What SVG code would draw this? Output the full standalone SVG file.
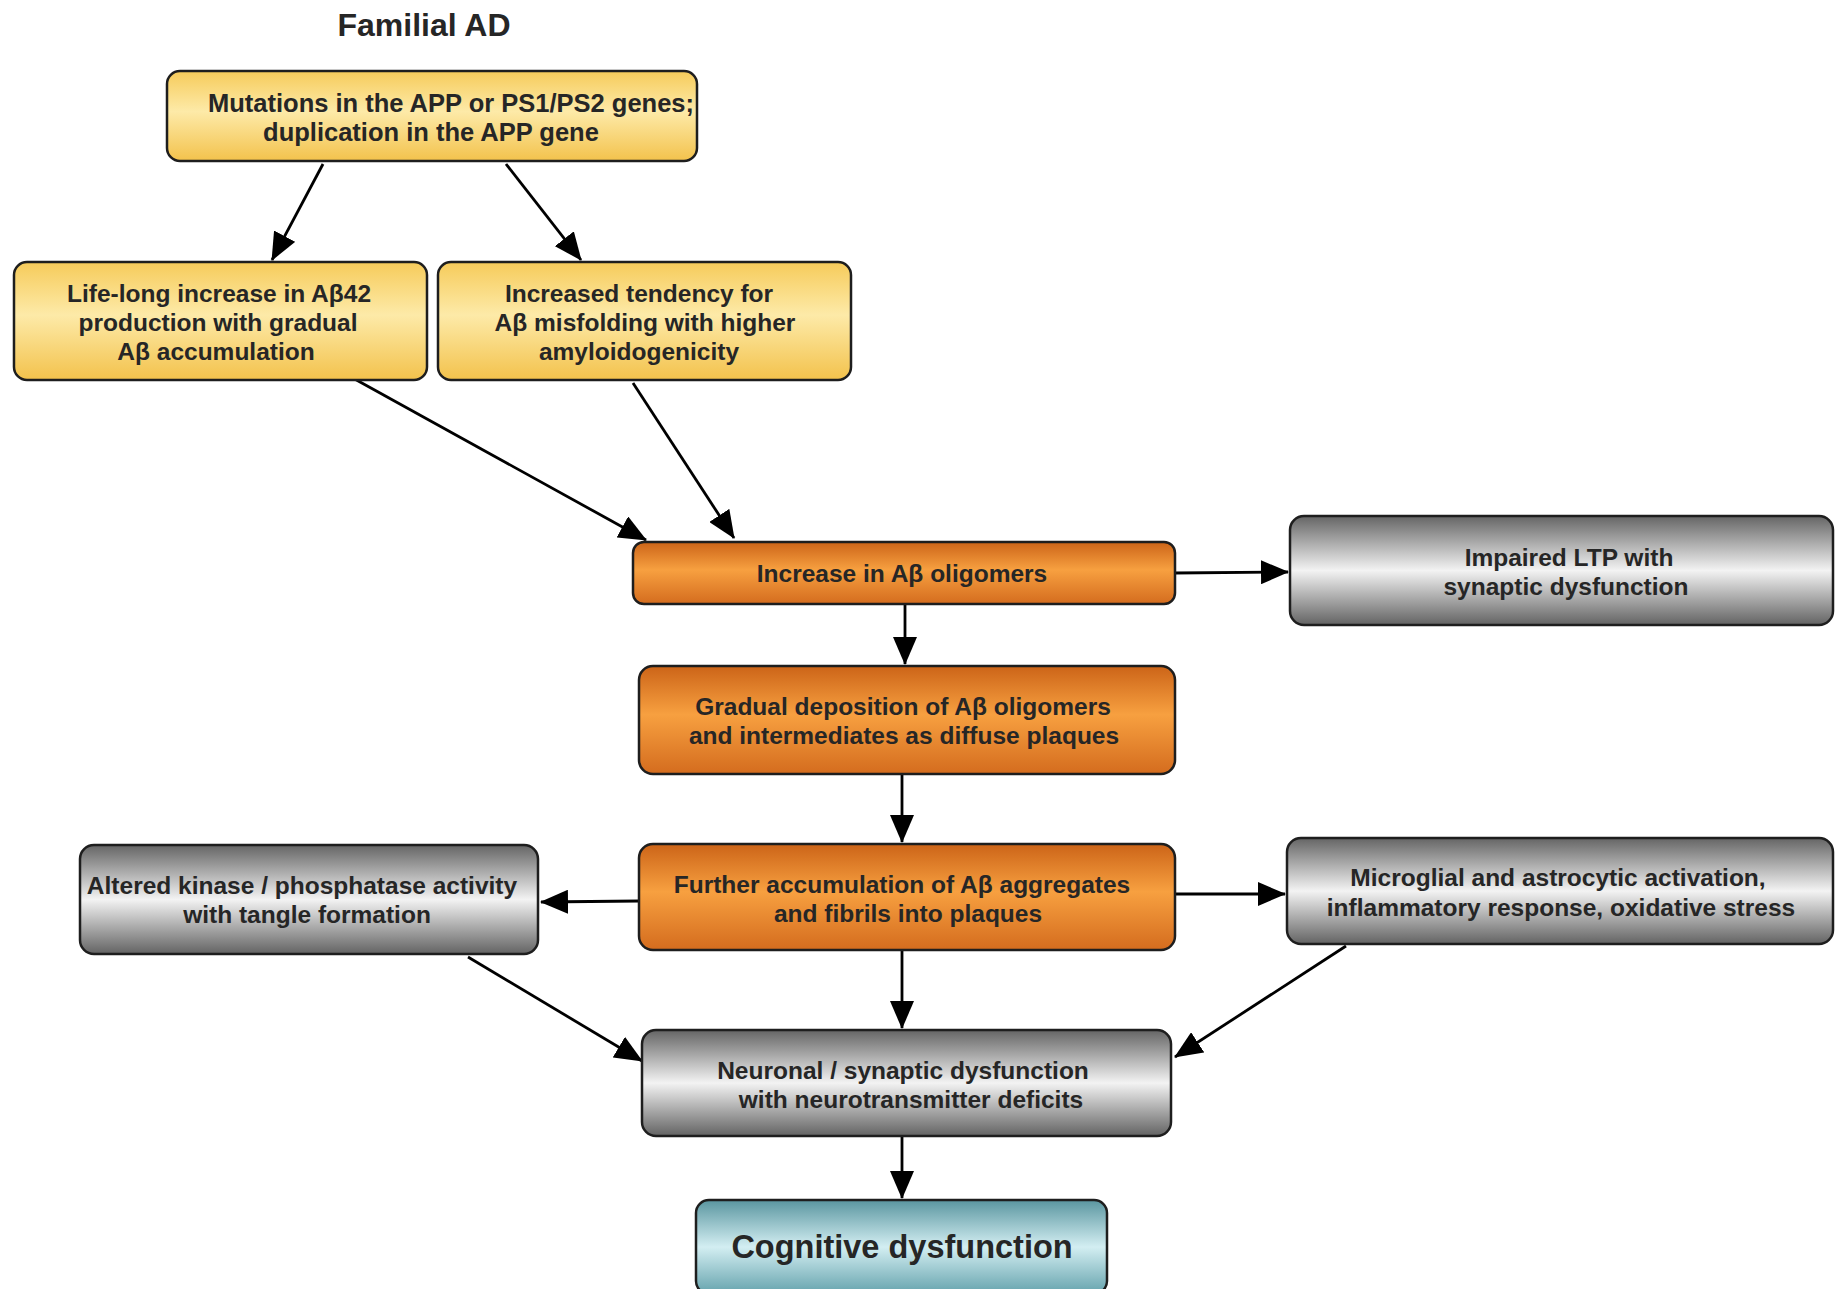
<svg xmlns="http://www.w3.org/2000/svg" width="1835" height="1289" viewBox="0 0 1835 1289">
<style>
.box{stroke:#1e1e1e;stroke-width:2.5}
.t{font-family:"Liberation Sans",Arial,sans-serif;font-weight:bold;font-size:24.5px;fill:#262626;text-anchor:middle}
.tp{font-size:25.5px}
.big{font-size:32.5px}
.title{font-size:32px}
.c{stroke:#000;stroke-width:2.8;fill:none;marker-end:url(#ah)}
</style>
<defs>
<marker id="ah" viewBox="0 0 28 24" refX="27" refY="12" markerWidth="28" markerHeight="24" markerUnits="userSpaceOnUse" orient="auto">
<path d="M0,0 L28,12 L0,24 Z" fill="#000"/>
</marker>
<linearGradient id="gy" x1="0" y1="0" x2="0" y2="1">
<stop offset="0" stop-color="#f6cb5a"/><stop offset="0.45" stop-color="#fdeaa8"/><stop offset="1" stop-color="#f3c24c"/>
</linearGradient>
<linearGradient id="go" x1="0" y1="0" x2="0" y2="1">
<stop offset="0" stop-color="#cc6418"/><stop offset="0.45" stop-color="#f7a040"/><stop offset="1" stop-color="#d46c1e"/>
</linearGradient>
<linearGradient id="gg" x1="0" y1="0" x2="0" y2="1">
<stop offset="0" stop-color="#656565"/><stop offset="0.5" stop-color="#f3f3f3"/><stop offset="1" stop-color="#636363"/>
</linearGradient>
<linearGradient id="gt" x1="0" y1="0" x2="0" y2="1">
<stop offset="0" stop-color="#5a96a0"/><stop offset="0.5" stop-color="#d3eef2"/><stop offset="1" stop-color="#64a2ac"/>
</linearGradient>
</defs>
<rect width="1835" height="1289" fill="#fff"/>
<text class="t title" x="424" y="36">Familial AD</text>
<g id="connectors">
<line class="c" x1="323" y1="164" x2="272" y2="260"/>
<line class="c" x1="506" y1="164" x2="581" y2="260"/>
<line class="c" x1="342" y1="372" x2="646" y2="540"/>
<line class="c" x1="633" y1="383" x2="734" y2="538"/>
<line class="c" x1="1175" y1="573" x2="1288" y2="572"/>
<line class="c" x1="905" y1="604" x2="905" y2="664"/>
<line class="c" x1="902" y1="774" x2="902" y2="842"/>
<line class="c" x1="639" y1="901" x2="541" y2="902"/>
<line class="c" x1="1159" y1="894" x2="1285" y2="894"/>
<line class="c" x1="902" y1="950" x2="902" y2="1028"/>
<line class="c" x1="468" y1="957" x2="642" y2="1061"/>
<line class="c" x1="1346" y1="946" x2="1175" y2="1057"/>
<line class="c" x1="902" y1="1136" x2="902" y2="1198"/>
</g>
<g id="n1"><rect class="box" x="167" y="71" width="530" height="90" rx="13" fill="url(#gy)"/>
<text class="t tp" x="451" y="112">Mutations in the APP or PS1/PS2 genes;</text>
<text class="t tp" x="431" y="141">duplication in the APP gene</text></g>
<g id="n2"><rect class="box" x="14" y="262" width="413" height="118" rx="13" fill="url(#gy)"/>
<text class="t" x="219" y="302">Life-long increase in Aβ42</text>
<text class="t" x="218" y="331">production with gradual</text>
<text class="t" x="216" y="360">Aβ accumulation</text></g>
<g id="n3"><rect class="box" x="438" y="262" width="413" height="118" rx="13" fill="url(#gy)"/>
<text class="t" x="639" y="302">Increased tendency for</text>
<text class="t" x="645" y="331">Aβ misfolding with higher</text>
<text class="t" x="639" y="360">amyloidogenicity</text></g>
<g id="n4"><rect class="box" x="633" y="542" width="542" height="62" rx="11" fill="url(#go)"/>
<text class="t" x="902" y="582">Increase in Aβ oligomers</text></g>
<g id="n5"><rect class="box" x="1290" y="516" width="543" height="109" rx="14" fill="url(#gg)"/>
<text class="t" x="1569" y="566">Impaired LTP with</text>
<text class="t" x="1566" y="595">synaptic dysfunction</text></g>
<g id="n6"><rect class="box" x="639" y="666" width="536" height="108" rx="14" fill="url(#go)"/>
<text class="t" x="903" y="715">Gradual deposition of Aβ oligomers</text>
<text class="t" x="904" y="744">and intermediates as diffuse plaques</text></g>
<g id="n7"><rect class="box" x="639" y="844" width="536" height="106" rx="14" fill="url(#go)"/>
<text class="t" x="902" y="893">Further accumulation of Aβ aggregates</text>
<text class="t" x="908" y="922">and fibrils into plaques</text></g>
<g id="n8"><rect class="box" x="80" y="845" width="458" height="109" rx="14" fill="url(#gg)"/>
<text class="t" x="302" y="894">Altered kinase / phosphatase activity</text>
<text class="t" x="307" y="923">with tangle formation</text></g>
<g id="n9"><rect class="box" x="1287" y="838" width="546" height="106" rx="14" fill="url(#gg)"/>
<text class="t" x="1558" y="886">Microglial and astrocytic activation,</text>
<text class="t" x="1561" y="916">inflammatory response, oxidative stress</text></g>
<g id="n10"><rect class="box" x="642" y="1030" width="529" height="106" rx="14" fill="url(#gg)"/>
<text class="t" x="903" y="1079">Neuronal / synaptic dysfunction</text>
<text class="t" x="911" y="1108">with neurotransmitter deficits</text></g>
<g id="n11"><rect class="box" x="696" y="1200" width="411" height="94" rx="13" fill="url(#gt)"/>
<text class="t big" x="902" y="1258">Cognitive dysfunction</text></g>
</svg>
